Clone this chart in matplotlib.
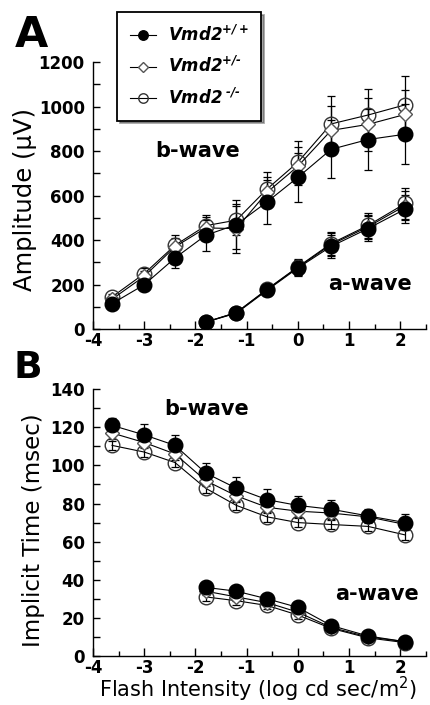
import matplotlib
matplotlib.use("Agg")
import matplotlib.pyplot as plt
from matplotlib.lines import Line2D
from matplotlib.ticker import MultipleLocator

plt.rcParams["font.family"] = ["DejaVu Sans"]
plt.rcParams["axes.unicode_minus"] = False
plt.rcParams["mathtext.fontset"] = "custom"
plt.rcParams["mathtext.rm"] = "DejaVu Sans:italic:bold"
plt.rcParams["mathtext.it"] = "DejaVu Sans:italic:bold"
plt.rcParams["mathtext.bf"] = "DejaVu Sans:bold"

# flash intensities (log cd sec/m^2)
x_b = [-3.63, -3.0, -2.4, -1.8, -1.2, -0.6, 0.0, 0.65, 1.37, 2.1]
x_a = [-1.8, -1.2, -0.6, 0.0, 0.65, 1.37, 2.1]

genotypes = ["+/+", "+/-", "-/-"]

# amplitude (uV), b-wave
amp_b = {
    "+/+": [115, 200, 320, 422, 470, 572, 682, 808, 852, 876],
    "+/-": [135, 238, 370, 455, 452, 615, 732, 893, 920, 965],
    "-/-": [145, 250, 377, 465, 490, 630, 750, 922, 962, 1008],
}
amp_b_err = {
    "+/+": [15, 25, 45, 70, 110, 100, 110, 130, 135, 135],
    "+/-": [15, 25, 40, 50, 110, 70, 85, 110, 120, 110],
    "-/-": [15, 25, 45, 50, 65, 75, 95, 125, 115, 130],
}
# amplitude (uV), a-wave
amp_a = {
    "+/+": [32, 72, 175, 275, 372, 452, 540],
    "+/-": [32, 75, 178, 278, 380, 460, 555],
    "-/-": [32, 75, 180, 280, 385, 466, 565],
}
amp_a_err = {
    "+/+": [5, 10, 25, 35, 50, 55, 65],
    "+/-": [5, 10, 25, 35, 50, 55, 65],
    "-/-": [5, 10, 25, 35, 50, 55, 70],
}
# implicit time (msec), b-wave
time_b = {
    "+/+": [121, 116, 110.5, 96, 88, 82, 79, 77, 73.5, 70],
    "+/-": [117, 112, 106, 92, 84, 78, 76, 75, 73, 69],
    "-/-": [110.5, 107, 101.5, 88, 79, 73, 70, 69, 68, 63.5],
}
time_b_err = {
    "+/+": [4, 5.5, 5.5, 5.5, 6, 5.5, 5, 5, 3.5, 4.5],
    "+/-": [3, 3, 3, 3, 3, 3, 3, 3, 3, 3],
    "-/-": [2.5, 2.5, 2.5, 2.5, 2.5, 2.5, 2.5, 2.5, 2.5, 2.5],
}
# implicit time (msec), a-wave
time_a = {
    "+/+": [36, 34, 30, 25.5, 16, 10.5, 7.5],
    "+/-": [34, 31, 28, 23, 15, 10, 7.5],
    "-/-": [31, 29, 26.5, 21.5, 14.5, 9.5, 7],
}
time_a_err = {
    "+/+": [2, 2, 2, 2, 1.5, 1.5, 1],
    "+/-": [2, 2, 2, 2, 1.5, 1.5, 1],
    "-/-": [2, 2, 2, 2, 1.5, 1.5, 1],
}

styles = {
    "+/+": dict(marker="o", mfc="black", mec="black", ms=10.5),
    "+/-": dict(marker="D", mfc="white", mec="#555555", ms=7.5),
    "-/-": dict(marker="o", mfc="none", mec="#333333", ms=10.5),
}
labels = {
    "+/+": r"$Vmd2^{+/+}$",
    "+/-": r"$Vmd2^{+/\text{-}}$",
    "-/-": r"$Vmd2^{\ \text{-}/\text{-}}$",
}
draw_order = ["-/-", "+/-", "+/+"]

fig = plt.figure(figsize=(4.31, 7.05), dpi=100)
ax1 = fig.add_axes([0.216, 0.533, 0.772, 0.379])
ax2 = fig.add_axes([0.216, 0.0695, 0.772, 0.3785])


def plot_set(ax, x, vals, errs, up_only=None):
    for g in draw_order:
        err = errs[g]
        if up_only == g:
            err = [[0] * len(err), err]
        ax.errorbar(x, vals[g], yerr=err, color="black", lw=0.8,
                    elinewidth=0.9, capsize=3, capthick=0.9, zorder=3,
                    **styles[g])


plot_set(ax1, x_b, amp_b, amp_b_err)
plot_set(ax1, x_a, amp_a, amp_a_err)
plot_set(ax2, x_b, time_b, time_b_err, up_only="+/+")
plot_set(ax2, x_a, time_a, time_a_err, up_only="+/+")

ax1.set_ylim(0, 1200)
ax1.yaxis.set_major_locator(MultipleLocator(200))
ax1.yaxis.set_minor_locator(MultipleLocator(100))
ax2.set_ylim(0, 140)
ax2.yaxis.set_major_locator(MultipleLocator(20))
ax2.yaxis.set_minor_locator(MultipleLocator(10))

for ax in (ax1, ax2):
    ax.set_xlim(-4, 2.5)
    ax.xaxis.set_major_locator(MultipleLocator(1))
    ax.xaxis.set_minor_locator(MultipleLocator(0.5))
    ax.spines["top"].set_visible(False)
    ax.spines["right"].set_visible(False)
    for s in ("left", "bottom"):
        ax.spines[s].set_linewidth(1.0)
    ax.tick_params(axis="x", which="major", direction="in", length=6,
                   width=1, labelsize=12, pad=2)
    ax.tick_params(axis="x", which="minor", direction="in", length=3.5,
                   width=1)
    ax.tick_params(axis="y", which="both", direction="in", length=5,
                   width=1, labelsize=12, pad=6)
    for t in ax.get_xticklabels() + ax.get_yticklabels():
        t.set_fontweight("bold")

ax1.set_ylabel("Amplitude (\u00b5V)", fontsize=17.5)
ax2.set_ylabel("Implicit Time (msec)", fontsize=16.5)
ax1.yaxis.set_label_coords(-0.168, 0.487)
ax2.yaxis.set_label_coords(-0.144, 0.472)
ax2.set_xlabel("Flash Intensity (log cd sec/m$^\\mathregular{2}$)",
               fontsize=15)
ax2.xaxis.set_label_coords(0.495, -0.072)

ax1.text(-1.96, 800, "b-wave", fontsize=15, fontweight="bold",
         ha="center", va="center")
ax1.text(1.41, 202, "a-wave", fontsize=15, fontweight="bold",
         ha="center", va="center")
ax2.text(-1.78, 129.5, "b-wave", fontsize=15, fontweight="bold",
         ha="center", va="center")
ax2.text(1.55, 32.5, "a-wave", fontsize=15, fontweight="bold",
         ha="center", va="center")

fig.text(0.072, 0.95, "A", fontsize=31, fontweight="bold",
         ha="center", va="center")
fig.text(0.064, 0.478, "B", fontsize=27, fontweight="bold",
         ha="center", va="center")

handles = [Line2D([], [], color="black", lw=0.8, **styles[g]) for g in genotypes]
leg = ax1.legend(handles, [labels[g] for g in genotypes],
                 loc="upper left", bbox_to_anchor=(0.2715, 0.983),
                 bbox_transform=fig.transFigure, borderaxespad=0,
                 fontsize=12, frameon=True, fancybox=False, shadow=True,
                 markerscale=0.65, handlelength=1.6, borderpad=0.75,
                 labelspacing=0.7, handletextpad=0.7)
leg.get_frame().set_edgecolor("black")
leg.get_frame().set_linewidth(1.3)

fig.savefig("out.png", dpi=100)
